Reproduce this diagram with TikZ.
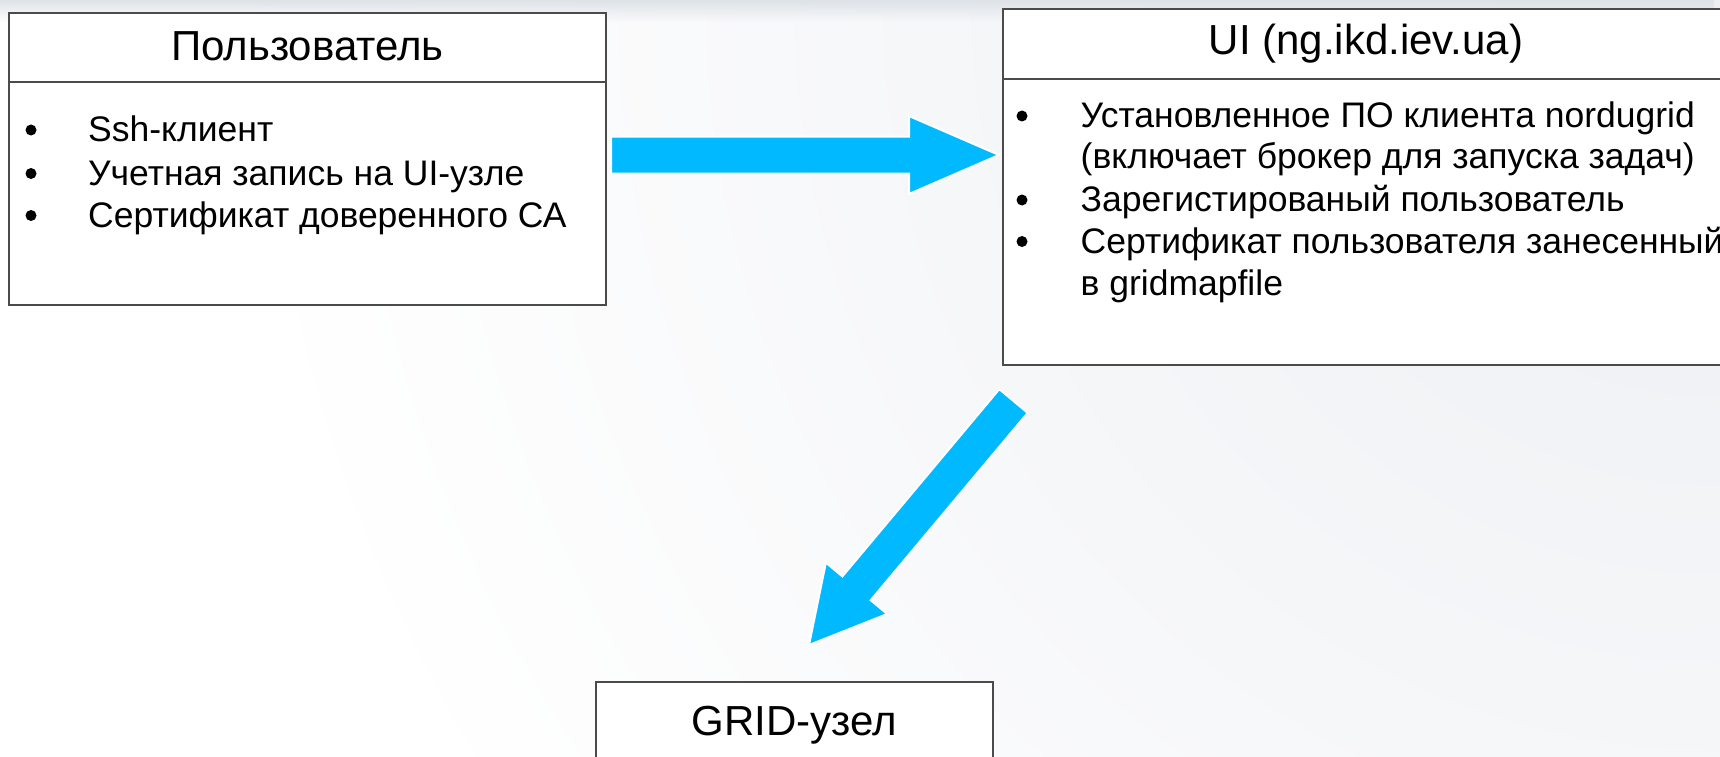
\documentclass[tikz,border=0pt]{standalone}
\usepackage{fontspec}
\setmainfont{Liberation Sans}
\usetikzlibrary{calc,fadings}
\definecolor{arrowblue}{RGB}{0,185,255}
\definecolor{boxline}{RGB}{75,75,75}
\definecolor{haze}{RGB}{236,238,242}
\definecolor{topband}{RGB}{222,227,232}
\tikzfading[name=topfade, top color=transparent!0, bottom color=transparent!100]
% block arrow from #1 to #2: head length #3, head half width #4, helper prefix #5
\newcommand\blockarrow[5]{%
  \coordinate (#5h) at ($(#2)!#3!(#1)$);
  \filldraw[arrowpoly]
    ($(#1)!18.5pt!90:(#2)$) -- ($(#5h)!18.5pt!90:(#2)$) -- ($(#5h)!#4!90:(#2)$)
    -- (#2)
    -- ($(#5h)!#4!-90:(#2)$) -- ($(#5h)!18.5pt!-90:(#2)$) -- ($(#1)!18.5pt!-90:(#2)$)
    -- cycle;
}
\begin{document}
\begin{tikzpicture}[x=1pt,y=-1pt,
  box/.style={draw=boxline, fill=white, line width=1.2pt, rectangle, inner sep=0pt, outer sep=0pt, anchor=north west},
  titletext/.style={font=\fontsize{42}{50}\selectfont, inner sep=0pt, anchor=base},
  itemtext/.style={font=\fontsize{35.5}{42}\selectfont, inner sep=0pt, anchor=base west},
  dot/.style={circle, fill=black, inner sep=0pt, minimum size=11pt},
  arrowpoly/.style={fill=arrowblue, draw=white, line width=2pt, line join=miter},
]
% page and soft background
\useasboundingbox (0,0) rectangle (1720,757);
\clip (0,0) rectangle (1720,757);
\fill[white] (0,0) rectangle (1720,757);
\shade[inner color=haze, outer color=white] (1720,0) circle (1500);
\fill[topband, path fading=topfade] (0,0) rectangle (1720,22);

% user box
\node[box, minimum width=597pt, minimum height=292pt] (user) at (9,13) {};
\draw[boxline, line width=1.2pt] (user.west |- 0,82) -- (user.east |- 0,82);
\node[titletext] (usertitle) at (307.5,61) {Пользователь};
\node[dot] (ub1) at (31,130) {};
\node[dot] (ub2) at (31,173.5) {};
\node[dot] (ub3) at (31,215.5) {};
\node[itemtext] (ut1) at (88,141.5) {Ssh-клиент};
\node[itemtext] (ut2) at (88,185) {Учетная запись на UI-узле};
\node[itemtext] (ut3) at (88,227) {Сертификат доверенного СА};

% UI box
\node[box, minimum width=726pt, minimum height=356pt] (ui) at (1003,9) {};
\draw[boxline, line width=1.2pt] (ui.west |- 0,79) -- (ui.east |- 0,79);
\node[titletext] (uititle) at (1366,55) {UI (ng.ikd.iev.ua)};
\node[dot] (vb1) at (1022,116) {};
\node[dot] (vb2) at (1022,200) {};
\node[dot] (vb3) at (1022,241.5) {};
\node[itemtext] (vt1) at (1080.5,127.5) {Установленное ПО клиента nordugrid};
\node[itemtext] (vt1b) at (1080.5,168) {(включает брокер для запуска задач)};
\node[itemtext] (vt2) at (1080.5,211.5) {Зарегистированый пользователь};
\node[itemtext] (vt3) at (1080.5,253) {Сертификат пользователя занесенный};
\node[itemtext] (vt3b) at (1080.5,295) {в gridmapfile};

% GRID node box
\node[box, minimum width=397pt, minimum height=160pt] (grid) at (596,682) {};
\node[titletext] (gridtitle) at (794.5,735) {GRID-узел};

% block arrows between the boxes
\coordinate (a1s) at ([xshift=5pt,yshift=4pt]user.east);
\coordinate (a1e) at ($(a1s -| ui.west)+(-4,0)$);
\blockarrow{a1s}{a1e}{90pt}{39pt}{a1}
\coordinate (a2s) at ([xshift=10.5pt,yshift=-36pt]ui.south west);
\coordinate (a2e) at ([xshift=14.5pt,yshift=37pt]grid.north);
\blockarrow{a2s}{a2e}{74pt}{40pt}{a2}
\end{tikzpicture}
\end{document}
